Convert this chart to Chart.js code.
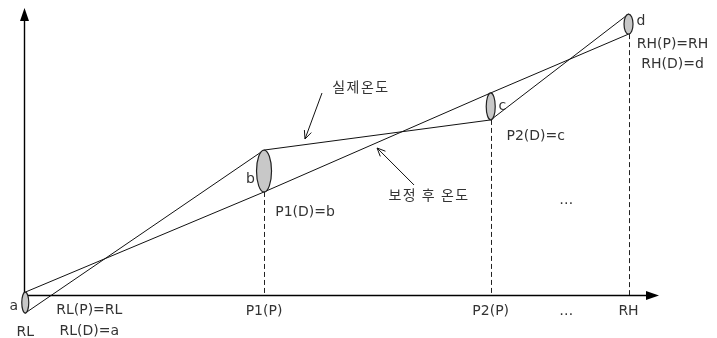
<!DOCTYPE html>
<html>
<head>
<meta charset="utf-8">
<script src="https://cdn.jsdelivr.net/npm/chart.js@4.4.1/dist/chart.umd.min.js"></script>
<style>
  html, body { margin: 0; padding: 0; background: #fff; }
</style>
</head>
<body>
<canvas id="diagram" width="717" height="338"></canvas>
<script>
// calibration points along the horizontal axis
var pointNames = ['RL', 'P1', 'P2', 'RH'];
var pointLetters = ['a', 'b', 'c', 'd'];
var pointPos = [0.2, 37.8, 73.5, 95.2];
// spread of the reading at each point (top / bottom of the ellipse)
var readTop = [1.0, 50.5, 70.4, 97.9];
var readBottom = [-6.3, 35.9, 61.0, 90.9];
// the two temperature lines
var actualTemp = [-6.3, 50.5, 61.0, 97.9];
var correctedTemp = [1.0, 35.9, 70.4, 90.9];
// tick labels under the axis
var axisLabels = ['P1(P)', 'P2(P)', '…', 'RH'];
var axisLabelPos = [37.8, 73.5, 85.4, 95.2];

function toPoints(xs, ys) {
  return xs.map(function(x, i) { return {x: x, y: ys[i]} });
}

function interp(xs, ys, x) {
  for (var i = 0; i < xs.length - 1; i++) {
    if (x >= xs[i] && x <= xs[i + 1]) {
      return ys[i] + (x - xs[i]) / (xs[i + 1] - xs[i]) * (ys[i + 1] - ys[i]);
    }
  }
  return ys[ys.length - 1];
}

var latinFont = '14px "DejaVu Sans", sans-serif';
var hangulFont = '14px "Noto Sans CJK KR", sans-serif';
var textColor = '#333';

function drawText(ctx, txt, x, y, font, base, spacing) {
  ctx.font = font;
  ctx.fillStyle = textColor;
  ctx.textAlign = 'center';
  ctx.textBaseline = base || 'alphabetic';
  ctx.letterSpacing = spacing || '0px';
  ctx.fillText(txt, x, y);
}

function openArrow(ctx, fx, fy, tx, ty) {
  var ang = Math.atan2(ty - fy, tx - fx), len = 9, spread = 0.42;
  ctx.beginPath();
  ctx.moveTo(fx, fy);
  ctx.lineTo(tx, ty);
  ctx.moveTo(tx - len * Math.cos(ang - spread), ty - len * Math.sin(ang - spread));
  ctx.lineTo(tx, ty);
  ctx.lineTo(tx - len * Math.cos(ang + spread), ty - len * Math.sin(ang + spread));
  ctx.stroke();
}

var diagramPlugin = {
  id: 'diagram',
  beforeDatasetsDraw: function(chart) {
    var ctx = chart.ctx, sx = chart.scales.x, sy = chart.scales.y;
    var x0 = sx.getPixelForValue(0), y0 = sy.getPixelForValue(0);
    var xEnd = sx.getPixelForValue(100), yEnd = sy.getPixelForValue(100);
    ctx.save();
    // axes with filled arrow heads
    ctx.strokeStyle = '#000';
    ctx.fillStyle = '#000';
    ctx.lineWidth = 1.4;
    ctx.beginPath();
    ctx.moveTo(x0 + 0.5, y0);
    ctx.lineTo(x0 + 0.5, yEnd + 12);
    ctx.moveTo(x0, y0 + 0.5);
    ctx.lineTo(xEnd - 12, y0 + 0.5);
    ctx.stroke();
    ctx.beginPath();
    ctx.moveTo(x0 + 0.5, yEnd);
    ctx.lineTo(x0 + 5, yEnd + 13);
    ctx.lineTo(x0 - 4, yEnd + 13);
    ctx.closePath();
    ctx.fill();
    ctx.beginPath();
    ctx.moveTo(xEnd, y0 + 0.5);
    ctx.lineTo(xEnd - 13, y0 - 4);
    ctx.lineTo(xEnd - 13, y0 + 5);
    ctx.closePath();
    ctx.fill();
    // dashed drop lines
    ctx.strokeStyle = '#222';
    ctx.lineWidth = 1;
    ctx.setLineDash([5, 3]);
    for (var i = 1; i < pointPos.length; i++) {
      var px = Math.round(sx.getPixelForValue(pointPos[i])) + 0.5;
      ctx.beginPath();
      ctx.moveTo(px, sy.getPixelForValue(readBottom[i]));
      ctx.lineTo(px, y0);
      ctx.stroke();
    }
    ctx.restore();
  },
  afterDatasetsDraw: function(chart) {
    var ctx = chart.ctx, sx = chart.scales.x, sy = chart.scales.y;
    var y0 = sy.getPixelForValue(0);
    var rx = [3.5, 7.5, 4.5, 4.5];
    ctx.save();
    // ellipses showing the reading spread
    var centers = [];
    for (var i = 0; i < pointPos.length; i++) {
      var cx = sx.getPixelForValue(pointPos[i]);
      var top = sy.getPixelForValue(readTop[i]), bot = sy.getPixelForValue(readBottom[i]);
      centers.push({x: cx, y: (top + bot) / 2, bot: bot});
      ctx.beginPath();
      ctx.ellipse(cx, (top + bot) / 2, rx[i], (bot - top) / 2, 0, 0, Math.PI * 2);
      ctx.fillStyle = '#c8c8c8';
      ctx.fill();
      ctx.strokeStyle = '#222';
      ctx.lineWidth = 1.2;
      ctx.stroke();
    }
    // letters next to the ellipses
    var letterOff = [[-11.5, 7.5], [-13.5, 12], [11.5, 3.5], [12.5, 1]];
    pointLetters.forEach(function(l, i) {
      drawText(ctx, l, centers[i].x + letterOff[i][0], centers[i].y + letterOff[i][1], latinFont);
    });
    // axis labels
    axisLabels.forEach(function(l, i) {
      drawText(ctx, l, sx.getPixelForValue(axisLabelPos[i]), y0 + 20, latinFont);
    });
    drawText(ctx, pointNames[0], centers[0].x, y0 + 41, latinFont);
    drawText(ctx, 'RL(P)=RL', centers[0].x + 64, y0 + 19, latinFont);
    drawText(ctx, 'RL(D)=a', centers[0].x + 64, y0 + 40, latinFont);
    drawText(ctx, 'P1(D)=b', centers[1].x + 41, centers[1].bot + 24, latinFont);
    drawText(ctx, 'P2(D)=c', centers[2].x + 45, centers[2].bot + 20, latinFont);
    drawText(ctx, 'RH(P)=RH', centers[3].x + 44, centers[3].bot + 14, latinFont);
    drawText(ctx, 'RH(D)=d', centers[3].x + 44, centers[3].bot + 34, latinFont);
    drawText(ctx, '…', sx.getPixelForValue(85.4), sy.getPixelForValue(31.7), latinFont);

    // pointer arrows to the two lines
    ctx.strokeStyle = '#111';
    ctx.lineWidth = 1;
    var ax = 44.25, tx = sx.getPixelForValue(ax), ty = sy.getPixelForValue(interp(pointPos, actualTemp, ax)) - 5.6;
    openArrow(ctx, tx + 17, ty - 46, tx, ty);
    drawText(ctx, '실제온도', tx + 56, ty - 52, hangulFont, 'middle', '1.5px');
    var bx = 55.6, ux = sx.getPixelForValue(bx), uy = sy.getPixelForValue(interp(pointPos, correctedTemp, bx)) + 5.4;
    openArrow(ctx, ux + 37, uy + 37, ux, uy);
    drawText(ctx, '보정 후 온도', ux + 52, uy + 47, hangulFont, 'middle', '1.5px');
    ctx.restore();
  }
};

var chart = new Chart('diagram', {
  type: 'line',
  data: {
    datasets: [
      {
        label: '실제온도',
        data: toPoints(pointPos, actualTemp),
        borderColor: '#111',
        borderWidth: 1,
        pointRadius: 0,
        fill: false,
        tension: 0,
        clip: false
      },
      {
        label: '보정 후 온도',
        data: toPoints(pointPos, correctedTemp),
        borderColor: '#111',
        borderWidth: 1,
        pointRadius: 0,
        fill: false,
        tension: 0,
        clip: false
      }
    ]
  },
  options: {
    responsive: false,
    animation: false,
    devicePixelRatio: 1,
    layout: { padding: { left: 24, top: 8, right: 58, bottom: 43 } },
    plugins: { legend: { display: false }, tooltip: { enabled: false } },
    scales: {
      x: { type: 'linear', display: false, min: 0, max: 100 },
      y: { type: 'linear', display: false, min: 0, max: 100 }
    }
  },
  plugins: [diagramPlugin]
});
</script>
</body>
</html>
